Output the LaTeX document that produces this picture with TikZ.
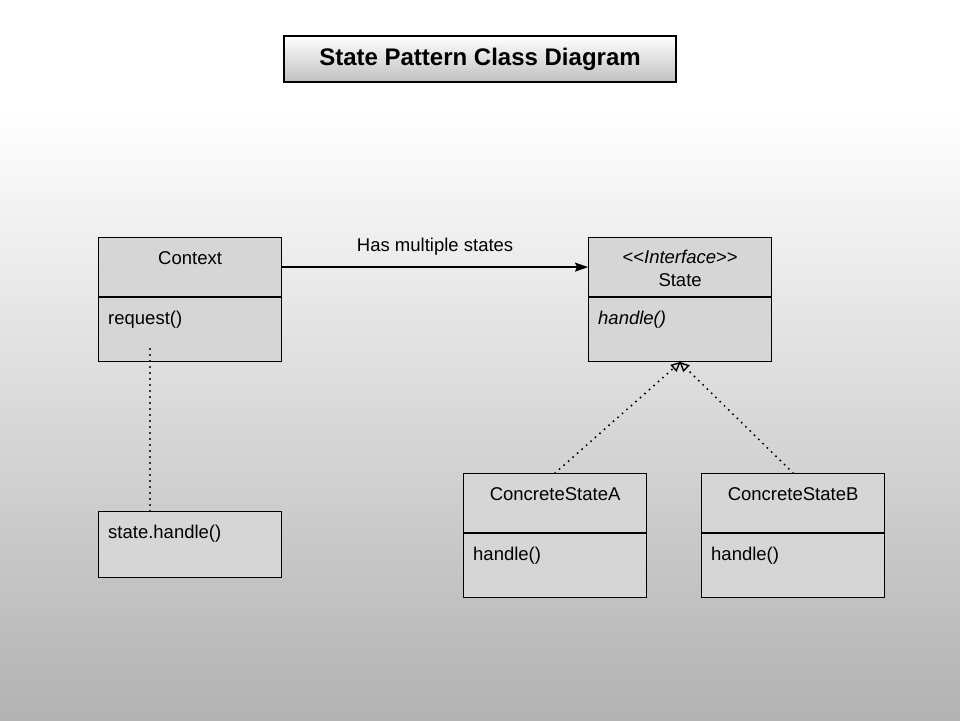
\documentclass[tikz,border=0pt]{standalone}
\usepackage{fontspec}
\setmainfont{Liberation Sans}
\usetikzlibrary{arrows.meta,positioning}

\definecolor{classfill}{RGB}{214,214,214}
\definecolor{bgbottom}{RGB}{178,178,178}
\definecolor{titlebottom}{RGB}{192,192,192}
\newcommand{\umlfont}{\fontsize{18.5}{22}\selectfont}
\newcommand{\titlefont}{\fontsize{24}{28}\selectfont\bfseries}

\begin{document}
\begin{tikzpicture}[x=1pt, y=-1pt, font=\umlfont,
    classbox/.style={draw, line width=1.2pt, fill=classfill, minimum width=183pt, inner sep=0pt, anchor=north west},
    headbox/.style={classbox, minimum height=59pt},
    opbox/.style={classbox, minimum height=64pt},
    classname/.style={anchor=base, inner sep=0pt},
    opname/.style={anchor=base west, inner sep=0pt},
    titlebox/.style={draw, line width=1.2pt, top color=white, bottom color=titlebottom, minimum width=392pt, minimum height=46pt, font=\titlefont},
    assoc/.style={line width=1.6pt, -{Stealth[length=13pt, width=9pt, inset=2pt]}},
    usesline/.style={line width=2.2pt, line cap=round, dash pattern=on 0pt off 6pt},
    realize/.style={line width=2.2pt, line cap=round, dash pattern=on 0pt off 6pt, shorten >=-1pt,
        -{Triangle[open, length=10pt, width=9pt, line width=1.4pt, sep=0pt]}}]
    \useasboundingbox (0,0) rectangle (960,720);
    \fill[white] (0,0) rectangle (960,110);
    \shade[top color=white, bottom color=bgbottom] (0,110) rectangle (960,720);

    \node[titlebox] (title) at (480,59) {State Pattern Class Diagram};

    % Context
    \node[headbox] (ctx) at (98,237) {};
    \node[opbox] (ctxops) at (ctx.south west) {};
    \node[classname] (ctxname) at ([shift={(0,27)}]ctx.north) {Context};
    \node[opname] (request) at ([shift={(10,27)}]ctxops.north west) {request()};

    % call note
    \node[classbox, minimum height=66pt] (call) at (98,511) {};
    \node[opname] (calltext) at ([shift={(10,27)}]call.north west) {state.handle()};

    % State
    \node[headbox] (state) at (588,237) {};
    \node[opbox] (stateops) at (state.south west) {};
    \node[classname] (stereo) at ([shift={(0,26)}]state.north) {<\kern0pt<\textit{Interface}>\kern0pt>};
    \node[classname] (statename) at ([shift={(0,49)}]state.north) {State};
    \node[opname] (handle) at ([shift={(10,27)}]stateops.north west) {\textit{handle()}};

    % ConcreteStateA
    \node[headbox] (csa) at (463,473) {};
    \node[opbox] (csaops) at (csa.south west) {};
    \node[classname] (csaname) at ([shift={(0,27)}]csa.north) {ConcreteStateA};
    \node[opname] (csahandle) at ([shift={(10,27)}]csaops.north west) {handle()};

    % ConcreteStateB
    \node[headbox] (csb) at (701,473) {};
    \node[opbox] (csbops) at (csb.south west) {};
    \node[classname] (csbname) at ([shift={(0,27)}]csb.north) {ConcreteStateB};
    \node[opname] (csbhandle) at ([shift={(10,27)}]csbops.north west) {handle()};

    % connectors
    \draw[assoc] (ctx) -- node[midway, above=11pt, inner sep=0pt] (haslabel) {Has multiple states} (state);
    \coordinate (ctxnote) at (150,349);
    \draw[usesline] (ctxnote) -- (ctxnote |- call.north);
    \draw[realize] (csa.north) -- (stateops.south);
    \draw[realize] (csb.north) -- (stateops.south);
\end{tikzpicture}
\end{document}
